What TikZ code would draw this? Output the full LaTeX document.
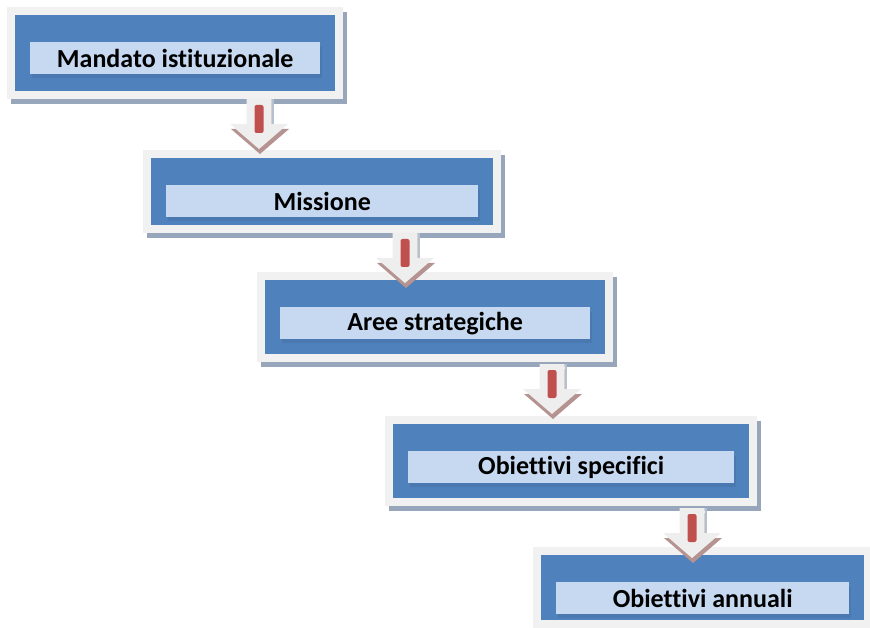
\documentclass[tikz,border=0pt]{standalone}
\usepackage{fontspec}
\setmainfont[Ligatures=NoCommon]{Carlito}
\definecolor{frameC}{HTML}{F1F1F1}
\definecolor{shadowC}{HTML}{97A6BB}
\definecolor{blueC}{HTML}{4F81BD}
\definecolor{blueD}{HTML}{4872A8}
\definecolor{innerC}{HTML}{C6D9F1}
\definecolor{redC}{HTML}{C0504D}
\definecolor{arrowSh}{HTML}{B59391}
\definecolor{arrowC}{HTML}{EEEEEE}
\tikzset{
  framebox/.style={anchor=north west, fill=frameC, draw=none, inner sep=0pt},
  bluebox/.style={anchor=north west, fill=blueC, draw=none, inner sep=0pt},
  textbox/.style={anchor=north west, fill=innerC, draw=none, inner sep=0pt,
     font=\fontsize{26}{29}\selectfont\bfseries, text=black},
  boxshadow/.style={fill=shadowC},
  arrowbody/.style={fill=arrowC, draw=none},
  arrowshadow/.style={fill=arrowSh},
  redbar/.style={fill=redC, rounded corners=2pt},
}
% #1 name, #2 x, #3 y, #4 width, #5 height, #6 text
\newcommand{\stepframe}[6]{%
  \fill[boxshadow] (#2+4,#3+5) rectangle (#2+#4+4,#3+#5+5);
  \node[framebox, minimum width=#4pt, minimum height=#5pt] (#1f) at (#2,#3) {};
  \node[bluebox, minimum width=#4pt-16pt, minimum height=#5pt-16pt] (#1b) at (#2+8,#3+8) {};
  \fill[blueD, opacity=0.6] (#2+25,#3+35+5) rectangle (#2+#4-21,#3+35+36);
  \node[textbox, minimum width=#4pt-46pt, minimum height=32pt] (#1) at (#2+23,#3+35) {#6};
}
\newcommand{\flowarrow}[1]{%
  \fill[arrowshadow] ([shift={(1,5)}]#1) ++(-12.5,0) -- ++(25,0) -- ++(0,25) -- ++(16.5,0) -- ++(-29,25) -- ++(-29,-25) -- ++(16.5,0) -- cycle;
  \fill[arrowbody] (#1) ++(-12.5,0) -- ++(25,0) -- ++(0,25) -- ++(16.5,0) -- ++(-29,25) -- ++(-29,-25) -- ++(16.5,0) -- cycle;
  \fill[shadowC!70] (#1) ++(12.5,0) rectangle ++(2.5,25);
  \fill[redbar] (#1) ++(-4.5,6) rectangle ++(9,28);
}
\begin{document}
\begin{tikzpicture}[x=1pt,y=-1pt]
\useasboundingbox (0,0) rectangle (870,628);
\stepframe{b1}{7}{7}{336}{92}{Mandato istituzionale}
\stepframe{b2}{143}{150}{358}{83}{Missione}
\stepframe{b3}{257}{272}{356}{90}{Aree strategiche}
\stepframe{b4}{385}{416}{372}{90}{Obiettivi specifici}
\stepframe{b5}{533}{547}{339}{81}{Obiettivi annuali}
\coordinate (a1) at (259,99);
\coordinate (a2) at (405,233);
\coordinate (a3) at (552,364);
\coordinate (a4) at (692,508);
\flowarrow{a1}
\flowarrow{a2}
\flowarrow{a3}
\flowarrow{a4}
\end{tikzpicture}
\end{document}
